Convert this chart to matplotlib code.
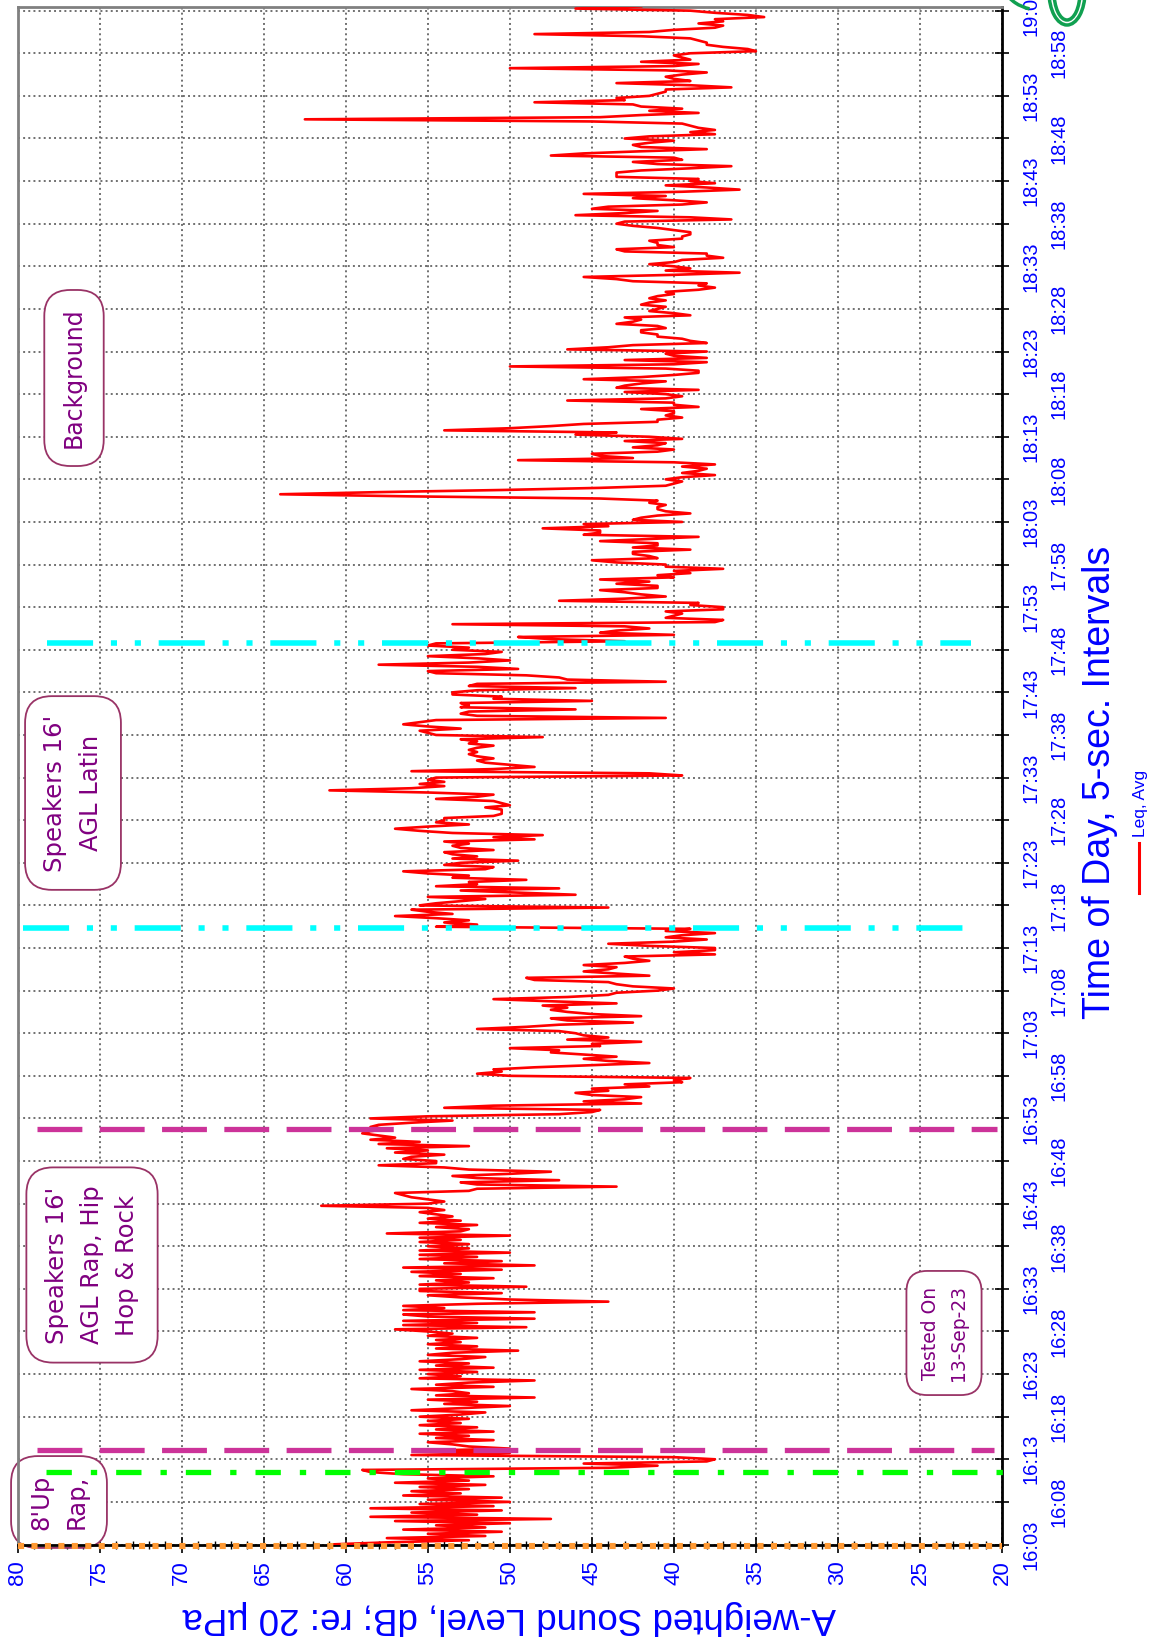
import numpy as np
import matplotlib
matplotlib.use('Agg')
import matplotlib.pyplot as plt
from matplotlib.lines import Line2D
from matplotlib.patches import Arc
from matplotlib.transforms import IdentityTransform

# Leq, Avg (dBA) read every 15 s, one list per 5-min block (name = block start)
leq_1603 = [61.0, 57.5, 52.5, 57.5, 51.5, 55.0, 50.5, 56.5, 51.5, 54.5, 50.0, 57.0, 47.5, 58.5, 52.0, 56.0, 50.5, 58.5, 51.0, 55.5]
leq_1608 = [50.0, 55.0, 50.5, 56.5, 53.0, 56.0, 52.5, 55.5, 51.5, 57.0, 52.5, 55.0, 51.0, 56.5, 58.5, 59.0, 44.0, 41.0, 45.5, 38.0]
leq_1613 = [37.5, 40.0, 56.0, 50.0, 55.5, 50.0, 52.5, 53.5, 55.0, 51.0, 54.5, 52.5, 55.5, 51.0, 54.5, 52.0, 55.5, 53.0, 55.0, 52.5]
leq_1618 = [55.5, 53.0, 51.5, 56.0, 53.0, 50.0, 54.0, 52.0, 55.0, 48.5, 54.5, 52.5, 53.5, 56.0, 51.0, 54.5, 52.5, 48.5, 55.5, 53.0]
leq_1623 = [55.0, 52.0, 55.5, 51.0, 54.5, 52.5, 55.5, 53.0, 51.5, 55.0, 53.5, 49.5, 54.5, 52.0, 55.0, 53.0, 54.5, 52.0, 55.0, 53.5]
leq_1628 = [55.0, 57.0, 49.0, 56.5, 52.0, 56.5, 48.5, 55.0, 56.5, 48.5, 56.5, 54.0, 56.5, 52.0, 44.0, 50.0, 53.0, 55.0, 50.5, 55.5]
leq_1633 = [55.5, 49.0, 55.5, 52.5, 54.5, 51.0, 55.5, 53.0, 56.0, 50.5, 56.5, 48.5, 54.0, 50.5, 55.5, 52.0, 55.5, 50.0, 55.5, 52.5]
leq_1638 = [55.0, 52.5, 55.5, 53.0, 55.5, 50.0, 57.5, 53.0, 52.5, 54.5, 52.0, 55.5, 53.0, 55.0, 53.5, 54.5, 55.5, 54.0, 55.0, 61.5]
leq_1643 = [55.0, 54.0, 55.0, 56.0, 56.5, 57.0, 52.5, 52.0, 43.5, 52.0, 53.0, 47.0, 52.0, 53.5, 50.0, 47.5, 52.5, 54.0, 58.0, 54.5]
leq_1648 = [54.5, 56.5, 56.0, 54.0, 57.0, 55.0, 57.5, 52.5, 58.0, 55.5, 58.5, 57.0, 58.0, 59.0, 58.5, 57.5, 58.5, 58.0, 56.0, 53.5]
leq_1653 = [58.5, 55.0, 47.0, 45.0, 44.5, 54.0, 51.0, 42.0, 45.5, 43.0, 42.0, 45.0, 46.0, 44.0, 45.0, 41.5, 43.0, 39.5, 40.0, 39.0]
leq_1658 = [50.0, 52.0, 50.5, 51.0, 48.5, 45.0, 41.5, 44.0, 45.5, 43.5, 45.5, 47.5, 47.0, 50.0, 44.5, 45.0, 42.0, 46.5, 44.0, 45.5]
leq_1703 = [46.0, 47.0, 52.0, 49.0, 47.0, 42.5, 46.5, 47.5, 42.0, 45.0, 46.5, 47.5, 46.5, 48.0, 43.5, 47.5, 51.0, 46.5, 44.0, 43.5]
leq_1708 = [41.0, 40.0, 42.5, 43.5, 44.0, 48.5, 49.0, 41.5, 43.5, 45.5, 44.0, 43.5, 45.5, 43.0, 41.5, 42.5, 43.0, 37.5, 40.0, 37.5]
leq_1713 = [37.5, 41.5, 44.0, 40.0, 38.0, 40.5, 39.5, 37.5, 40.5, 39.0, 54.5, 52.0, 54.0, 52.5, 54.5, 57.0, 53.5, 55.0, 56.0, 44.0]
leq_1718 = [55.5, 54.5, 53.0, 51.5, 55.0, 46.0, 49.5, 53.0, 47.0, 54.5, 52.0, 52.5, 49.0, 53.5, 52.5, 55.0, 56.5, 51.5, 51.0, 54.0]
leq_1723 = [53.0, 49.5, 53.5, 52.0, 53.5, 54.0, 51.0, 53.0, 53.5, 52.5, 54.0, 48.5, 51.0, 48.0, 53.5, 55.5, 57.0, 55.0, 52.5, 54.5]
leq_1728 = [54.0, 54.0, 51.0, 50.5, 50.5, 50.5, 51.5, 50.0, 50.5, 51.0, 54.5, 52.0, 51.0, 55.0, 61.0, 56.0, 54.0, 55.5, 54.0, 55.0]
leq_1733 = [54.5, 39.5, 41.5, 56.0, 51.0, 48.5, 50.0, 51.5, 52.0, 51.0, 52.0, 52.5, 52.0, 52.5, 52.0, 51.0, 52.5, 52.0, 53.0, 48.0]
leq_1738 = [54.5, 55.0, 55.5, 53.0, 55.0, 56.5, 55.5, 54.5, 40.5, 52.0, 53.0, 52.5, 46.0, 53.0, 52.5, 53.0, 45.0, 51.0, 50.5, 53.5]
leq_1743 = [53.5, 52.0, 46.0, 52.5, 52.0, 40.5, 46.5, 47.0, 49.0, 54.5, 55.0, 49.5, 52.0, 58.0, 52.5, 50.0, 52.0, 55.0, 51.5, 50.5]
leq_1748 = [53.5, 52.5, 55.0, 54.5, 43.0, 47.5, 49.5, 40.0, 44.5, 43.5, 41.5, 43.0, 53.5, 37.5, 37.0, 40.5, 40.0, 39.5, 40.5, 37.0]
leq_1753 = [37.0, 39.0, 38.5, 47.0, 43.0, 40.5, 42.0, 43.0, 44.5, 41.0, 41.0, 43.5, 41.5, 44.5, 40.0, 41.0, 39.0, 40.0, 37.0, 40.5]
leq_1758 = [40.5, 43.5, 45.0, 41.0, 41.5, 42.5, 42.5, 39.0, 42.5, 41.0, 41.0, 44.5, 41.5, 38.5, 45.5, 44.5, 44.5, 48.0, 44.0, 45.5]
leq_1803 = [39.5, 42.5, 42.0, 41.0, 39.0, 40.5, 41.0, 41.0, 40.5, 41.5, 41.0, 44.5, 56.0, 64.0, 58.0, 50.5, 44.5, 40.5, 40.0, 39.5]
leq_1808 = [40.5, 39.5, 37.5, 39.5, 38.5, 38.0, 39.5, 37.5, 40.0, 49.5, 42.5, 44.5, 45.0, 41.0, 40.0, 42.5, 41.0, 40.5, 43.0, 39.5]
leq_1813 = [41.5, 46.0, 43.5, 54.0, 50.0, 47.5, 45.5, 41.0, 41.0, 39.5, 40.5, 40.0, 40.0, 42.0, 38.5, 40.0, 40.0, 46.5, 40.5, 39.5]
leq_1818 = [40.5, 43.0, 38.5, 43.5, 43.0, 42.0, 40.5, 45.5, 42.0, 40.0, 38.5, 38.5, 40.5, 50.0, 40.0, 38.0, 43.0, 38.0, 40.0, 40.5]
leq_1823 = [38.0, 46.5, 44.0, 42.5, 38.0, 39.0, 39.5, 41.0, 41.0, 42.0, 42.0, 40.5, 41.0, 43.5, 42.5, 42.0, 43.0, 39.0, 40.0, 41.5]
leq_1828 = [41.0, 40.5, 42.0, 41.5, 40.5, 41.5, 41.0, 40.0, 40.5, 38.5, 37.5, 38.5, 38.0, 42.5, 43.5, 45.5, 40.0, 36.0, 40.5, 39.0]
leq_1833 = [40.0, 41.5, 40.0, 39.5, 37.0, 38.0, 38.0, 43.0, 43.5, 40.0, 41.0, 41.0, 41.5, 39.5, 39.5, 39.0, 39.0, 40.0, 41.0, 42.5]
leq_1838 = [43.5, 43.0, 36.5, 39.0, 46.0, 43.0, 41.0, 45.0, 44.0, 39.5, 38.0, 40.0, 42.5, 40.5, 45.5, 39.5, 36.0, 38.0, 40.5, 37.5]
leq_1843 = [39.0, 38.5, 43.5, 43.5, 43.5, 42.0, 39.0, 36.5, 41.0, 42.5, 39.5, 40.0, 47.5, 45.5, 42.0, 38.0, 42.0, 42.5, 41.5, 40.0]
leq_1848 = [43.0, 41.5, 37.5, 39.0, 37.5, 38.5, 39.0, 39.5, 45.0, 62.5, 44.5, 42.0, 38.5, 41.5, 39.5, 42.0, 42.5, 48.5, 43.0, 43.5]
leq_1853 = [41.5, 41.0, 40.5, 40.5, 36.5, 39.0, 43.5, 39.0, 40.0, 40.5, 39.5, 38.0, 40.5, 50.0, 40.0, 38.5, 42.0, 39.0, 39.5, 40.0]
leq_1858 = [39.0, 35.0, 35.5, 37.0, 38.0, 38.0, 38.5, 39.0, 42.0, 48.5, 41.5, 40.0, 37.5, 37.0, 38.5, 37.0, 37.5, 34.5, 35.5, 37.5]
leq_1903 = [39.0, 46.0, 42.0]

start_clock = '16:03:00'
step_s = 15

# 표시선 (시각, 시작 dB, 끝 dB)
orange_mark = ('16:02:50', 80.0, 20.0)
green_mark = ('16:11:33', 78.3, 19.0)
magenta_marks = [('16:14:05', 78.8, 20.5), ('16:51:48', 78.8, 20.3)]
cyan_marks = [('17:15:19', 79.7, 21.5), ('17:48:46', 78.2, 21.9)]

notes = [
    ("8'Up\nRap,", 59, 1502, 17.5),
    ("Speakers 16'\nAGL Rap, Hip\nHop & Rock", 92, 1265, 17.5),
    ("Tested On\n13-Sep-23", 944, 1333, 13.5),
    ("Speakers 16'\nAGL Latin", 73, 793, 17.5),
    ("Background", 74, 378, 17),
]


def to_min(clock):
    h, m, s = [int(v) for v in clock.split(':')]
    h0, m0, s0 = [int(v) for v in start_clock.split(':')]
    return (h * 3600 + m * 60 + s - (h0 * 3600 + m0 * 60 + s0)) / 60.0


leq = (leq_1603 + leq_1608 + leq_1613 + leq_1618 + leq_1623 + leq_1628 + leq_1633 + leq_1638
       + leq_1643 + leq_1648 + leq_1653 + leq_1658 + leq_1703 + leq_1708 + leq_1713 + leq_1718
       + leq_1723 + leq_1728 + leq_1733 + leq_1738 + leq_1743 + leq_1748 + leq_1753 + leq_1758
       + leq_1803 + leq_1808 + leq_1813 + leq_1818 + leq_1823 + leq_1828 + leq_1833 + leq_1838
       + leq_1843 + leq_1848 + leq_1853 + leq_1858 + leq_1903)
t = np.arange(len(leq)) * step_s / 60.0

plt.rcParams['font.family'] = ['Liberation Sans', 'DejaVu Sans']

W, H = 1160, 1646
fig = plt.figure(figsize=(W / 100, H / 100), dpi=100)
ax = fig.add_axes([17.8 / W, 1 - 1544.5 / H, (1002 - 17.8) / W, (1544.5 - 6.7) / H])

ax.plot(leq, t, color='red', lw=1.9, zorder=3)

# event lines
def mark(m, color, lw, ls):
    tm = to_min(m[0])
    ax.plot([m[1], m[2]], [tm, tm], color=color, lw=lw, ls=ls,
            dash_capstyle='butt', solid_capstyle='butt', clip_on=False, zorder=4)

mark(orange_mark, '#FF9933', 4.4, (0, (1, 1.2)))
mark(green_mark, '#00FF00', 3.8, (0, (4.8, 3.6, 1.2, 3.6)))
for m in magenta_marks:
    mark(m, '#CC3399', 3.8, (0, (8.5, 3.3)))
for m in cyan_marks:
    mark(m, '#00FFFF', 4.0, (0, (8.3, 3.2, 1.1, 3.2, 1.1, 3.2)))

ax.set_xlim(80, 20)
ax.set_ylim(0, to_min('19:03:28'))
ax.set_xticks(np.arange(20, 81, 5))
ax.set_xticks(np.arange(20, 81, 1), minor=True)
yt = np.arange(0, 181, 5)
ax.set_yticks(yt)
ax.yaxis.tick_right()
ax.set_yticklabels([])
ax.grid(True, which='major', ls=':', color='#707070', lw=1.4)

ax.tick_params(axis='x', which='major', direction='inout', length=11, width=1.2,
               labelcolor='blue', labelsize=16, labelrotation=90, pad=6)
ax.tick_params(axis='x', which='minor', direction='inout', length=6, width=1)
ax.tick_params(axis='y', which='major', direction='inout', length=10, width=1.2)

for s in ['left', 'top']:
    ax.spines[s].set_color('#808080')
    ax.spines[s].set_linewidth(2)
for s in ['right', 'bottom']:
    ax.spines[s].set_color('black')
    ax.spines[s].set_linewidth(2)

# 시각 라벨 (두 줄 엇갈림)
for i, v in enumerate(yt):
    mins = 3 + int(v)
    lab = '%d:%02d' % (16 + mins // 60, mins % 60)
    xo = 1.0295 if i % 2 == 0 else 1.0575
    ax.text(xo, v, lab, transform=ax.get_yaxis_transform(), rotation=90,
            ha='center', va='center', fontsize=14.5, color='blue', clip_on=False)

for txt, px, py, fs in notes:
    ax.text(px / W, 1 - py / H, txt, transform=fig.transFigure, rotation=90,
            ha='center', va='center', multialignment='center', fontsize=fs,
            family='DejaVu Sans', color='#800080', linespacing=1.6, zorder=2.5,
            bbox=dict(boxstyle='round,pad=0.75,rounding_size=1.1', fc='white',
                      ec='#993366', lw=1.3))

fig.text(509 / W, 1 - 1618 / H, 'A-weighted Sound Level, dB; re: 20 µPa', rotation=180,
         ha='center', va='center', fontsize=26.5, color='blue')
fig.text(1100 / W, 1 - 782 / H, 'Time of Day, 5-sec. Intervals', rotation=90,
         ha='center', va='center', fontsize=27, color='blue')

# legend
fig.text(1141 / W, 1 - 803 / H, 'Leq, Avg', rotation=90, ha='center', va='center',
         fontsize=12.5, color='blue')
fig.add_artist(Line2D([1139 / W, 1139 / W], [1 - 843 / H, 1 - 893 / H], color='red', lw=2.2))

# green logo piece in the corner
for w, h in [(36, 66), (26, 56)]:
    fig.add_artist(Arc((1067, H + 8), w, h, theta1=180, theta2=360, color='#10A050',
                       lw=2.5, transform=IdentityTransform()))
fig.add_artist(Arc((1040, H + 20), 76, 60, theta1=200, theta2=250, color='#10A050',
                   lw=2.5, transform=IdentityTransform()))

fig.savefig('out.png', dpi=100)
